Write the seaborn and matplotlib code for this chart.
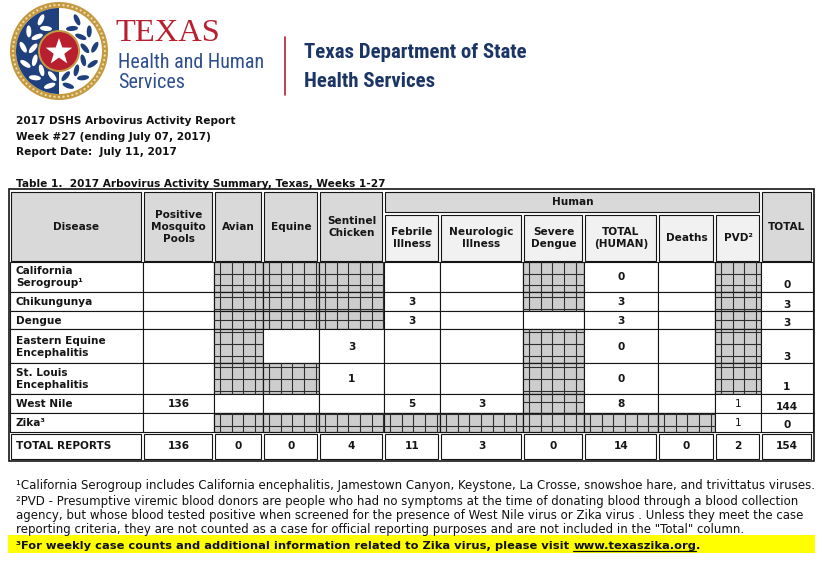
import numpy as np
import matplotlib
matplotlib.use("Agg")
import matplotlib.pyplot as plt
from matplotlib.patches import Rectangle, Circle, Wedge, Ellipse, Polygon
import seaborn as sns

# Data
diseases = ["California\nSerogroup¹", "Chikungunya", "Dengue",
            "Eastern Equine\nEncephalitis", "St. Louis\nEncephalitis",
            "West Nile", "Zika³"]
columns = ["Positive\nMosquito\nPools", "Avian", "Equine", "Sentinel\nChicken",
           "Febrile\nIllness", "Neurologic\nIllness", "Severe\nDengue",
           "TOTAL\n(HUMAN)", "Deaths", "PVD²", "TOTAL"]
human_cols = ["Febrile\nIllness", "Neurologic\nIllness", "Severe\nDengue",
              "TOTAL\n(HUMAN)", "Deaths", "PVD²"]
values = [
    [None, None, None, None, None, None, None, 0, None, None, 0],
    [None, None, None, None, 3, None, None, 3, None, None, 3],
    [None, None, None, None, 3, None, None, 3, None, None, 3],
    [None, None, None, 3, None, None, None, 0, None, None, 3],
    [None, None, None, 1, None, None, None, 0, None, None, 1],
    [136, None, None, None, 5, 3, None, 8, None, 1, 144],
    [None, None, None, None, None, None, None, None, None, 1, 0],
]
not_applicable = [
    [0, 1, 1, 1, 0, 0, 1, 0, 0, 1, 0],
    [0, 1, 1, 1, 0, 0, 1, 0, 0, 1, 0],
    [0, 1, 1, 1, 0, 0, 0, 0, 0, 1, 0],
    [0, 1, 0, 0, 0, 0, 1, 0, 0, 1, 0],
    [0, 1, 1, 0, 0, 0, 1, 0, 0, 1, 0],
    [0, 0, 0, 0, 0, 0, 1, 0, 0, 0, 0],
    [0, 1, 1, 1, 1, 1, 1, 1, 1, 0, 0],
]
totals = [136, 0, 0, 4, 11, 3, 0, 14, 0, 2, 154]
report_lines = ["2017 DSHS Arbovirus Activity Report",
                "Week #27 (ending July 07, 2017)",
                "Report Date:  July 11, 2017"]
table_title = "Table 1.  2017 Arbovirus Activity Summary, Texas, Weeks 1-27"
footnotes = [
    "¹California Serogroup includes California encephalitis, Jamestown Canyon, Keystone, La Crosse, snowshoe hare, and trivittatus viruses.",
    "²PVD - Presumptive viremic blood donors are people who had no symptoms at the time of donating blood through a blood collection",
    "agency, but whose blood tested positive when screened for the presence of West Nile virus or Zika virus . Unless they meet the case",
    "reporting criteria, they are not counted as a case for official reporting purposes and are not included in the \"Total\" column.",
]
zika_note = "³For weekly case counts and additional information related to Zika virus, please visit "
zika_url = "www.texaszika.org"

# Layout (pixels)
col_edges = [10, 143, 214, 263, 319, 384, 440, 523, 584, 658, 715, 761, 813]
row_edges = [262, 292, 311, 329, 363, 394, 413, 432, 460]
head_top, human_bottom = 190, 213

sns.set_theme(style="white")
plt.rcParams["font.family"] = ["DejaVu Sans"]
narrow = ["Roboto Condensed", "Open Sans Condensed", "Liberation Sans Narrow",
          "Roboto", "DejaVu Sans"]

fig = plt.figure(figsize=(8.24, 5.71), dpi=100)
ax = fig.add_axes([0, 0, 1, 1])
ax.set_xlim(0, 824)
ax.set_ylim(571, 0)
ax.axis("off")
renderer = fig.canvas.get_renderer()

def fit_text(x, y, s, width, size=10, **kw):
    t = ax.text(x, y, s, fontsize=size, **kw)
    w = t.get_window_extent(renderer).width
    t.set_fontsize(size * width / w)
    return t

# ---- logo ----
cx, cy = 59, 51
gold, navy, red = "#c39a42", "#1f3f7d", "#b8202f"
ax.add_patch(Circle((cx, cy), 49, fc=gold, ec="none"))
for a in np.linspace(0, 2 * np.pi, 64, endpoint=False):
    ax.add_patch(Circle((cx + 46 * np.cos(a), cy + 46 * np.sin(a)), 1.1,
                        fc="#f1dfa8", ec="none"))
ax.add_patch(Circle((cx, cy), 43, fc="white", ec="none"))
ax.add_patch(Wedge((cx, cy), 43, 90, 270, fc=navy, ec="none"))
for side, col in [(-1, "white"), (1, navy)]:
    for ang in np.linspace(30, 165, 6):
        r = np.deg2rad(ang)
        tx, ty = side * np.cos(r), np.sin(r)
        tang = np.degrees(np.arctan2(ty, tx))
        for off, tilt in [(36, 35), (26, -35)]:
            px, py = cx + side * off * np.sin(r), cy - off * np.cos(r)
            ax.add_patch(Ellipse((px, py), 12, 5, angle=tang + side * tilt,
                                 fc=col, ec="none"))
ax.add_patch(Circle((cx, cy), 21, fc=gold, ec="none"))
ax.add_patch(Circle((cx, cy), 19, fc=red, ec="none"))
pts = []
for k in range(10):
    rr = 14 if k % 2 == 0 else 5.6
    a = np.deg2rad(36 * k)
    pts.append((cx + rr * np.sin(a), cy - rr * np.cos(a) + 1))
ax.add_patch(Polygon(pts, closed=True, fc="white", ec="none"))

fit_text(115, 41, "TEXAS", 105, 25, family="Liberation Serif", color=red, va="baseline")
th = fit_text(118, 68, "Health and Human", 147, 16, family=narrow, color="#2d4f8f",
              va="baseline")
ax.text(118, 88, "Services", fontsize=th.get_fontsize(), family=narrow, color="#2d4f8f",
        va="baseline")
ax.plot([285, 285], [37, 95], color=red, lw=1.2)
td = fit_text(304, 58, "Texas Department of State", 223, 16, family=narrow, weight="bold",
              color="#1b3566", va="baseline")
ax.text(304, 87, "Health Services", fontsize=td.get_fontsize(), family=narrow,
        weight="bold", color="#1b3566", va="baseline")

# ---- report heading ----
for i, line in enumerate(report_lines):
    ax.text(16, 124 + i * 15.5, line, fontsize=7.6, weight="bold", color="#111",
            va="baseline")
ax.text(16, 187, table_title, fontsize=7.6, weight="bold", color="#111", va="baseline")

# ---- table ----
head_gray, sub_gray, na_gray = "#d9d9d9", "#f1f1f1", "#cdcdcd"
ink = "#151515"
tfont = dict(fontsize=7.6, weight="bold", color=ink)

def cell(x0, y0, x1, y1, fc, inset=0.0, lw=0.8):
    ax.add_patch(Rectangle((x0 + inset, y0 + inset), x1 - x0 - 2 * inset,
                           y1 - y0 - 2 * inset, fc=fc, ec=ink, lw=lw))

# header
cell(col_edges[0], head_top, col_edges[1], row_edges[0], head_gray, 1.5)
ax.text((col_edges[0] + col_edges[1]) / 2, 227, "Disease", ha="center", va="center", **tfont)
for j, name in enumerate(columns):
    x0, x1 = col_edges[j + 1], col_edges[j + 2]
    xc = (x0 + x1) / 2
    if name in human_cols:
        cell(x0, human_bottom, x1, row_edges[0], sub_gray, 1.5)
        ax.text(xc, 238, name, ha="center", va="center", multialignment="center",
                linespacing=1.3, **tfont)
    else:
        cell(x0, head_top, x1, row_edges[0], head_gray, 1.5)
        ax.text(xc, 227, name, ha="center", va="center", multialignment="center",
                linespacing=1.3, **tfont)
hx0, hx1 = col_edges[5], col_edges[11]
cell(hx0, head_top, hx1, human_bottom, head_gray, 1.5)
ax.text((hx0 + hx1) / 2, 202, "Human", ha="center", va="center", **tfont)

# body
spacing = 11.7
for i, name in enumerate(diseases):
    y0, y1 = row_edges[i], row_edges[i + 1]
    yc = (y0 + y1) / 2
    cell(col_edges[0], y0, col_edges[1], y1, "white")
    ax.text(16, yc + 0.5, name, ha="left", va="center", linespacing=1.25, **tfont)
    for j in range(len(columns)):
        x0, x1 = col_edges[j + 1], col_edges[j + 2]
        if not_applicable[i][j]:
            cell(x0, y0, x1, y1, na_gray)
            for gx in np.arange(x0 + spacing / 2, x1, spacing):
                ax.plot([gx, gx], [y0, y1], color="#2e2e2e", lw=0.8)
            for gy in np.arange(262 + spacing, y1, spacing):
                if gy > y0:
                    ax.plot([x0, x1], [gy, gy], color="#2e2e2e", lw=0.8)
            ax.add_patch(Rectangle((x0, y0), x1 - x0, y1 - y0, fc="none", ec=ink, lw=0.8))
        else:
            cell(x0, y0, x1, y1, "white")
        v = values[i][j]
        if v is not None:
            bold = "normal" if columns[j] == "PVD²" else "bold"
            if columns[j] == "TOTAL":
                ax.text((x0 + x1) / 2, y1 - 1.5, str(v), ha="center", va="bottom",
                        fontsize=7.6, weight=bold, color=ink)
            else:
                ax.text((x0 + x1) / 2, yc + 0.5, str(v), ha="center", va="center",
                        fontsize=7.6, weight=bold, color=ink)

# total row
y0, y1 = row_edges[-2], row_edges[-1]
yc = (y0 + y1) / 2
cell(col_edges[0], y0, col_edges[1], y1, "white", 1.5)
ax.text(16, yc, "TOTAL REPORTS", ha="left", va="center", **tfont)
for j, v in enumerate(totals):
    x0, x1 = col_edges[j + 1], col_edges[j + 2]
    cell(x0, y0, x1, y1, "white", 1.5)
    ax.text((x0 + x1) / 2, yc, str(v), ha="center", va="center", **tfont)

# outer border
ax.add_patch(Rectangle((col_edges[0] - 1, head_top - 1), col_edges[-1] - col_edges[0] + 2,
                       row_edges[-1] - head_top + 2, fc="none", ec=ink, lw=1.2))

# ---- footnotes ----
t = fit_text(16, 489, footnotes[0], 794, 7.2, color="#111", va="baseline")
fs = t.get_fontsize()
for k, line in enumerate(footnotes[1:]):
    ax.text(16, 505 + k * 14, line, fontsize=fs, color="#111", va="baseline")

ax.add_patch(Rectangle((8, 535), 807, 18, fc="#ffff00", ec="none"))
# size the bold line so that note + url + "." ends near x=696
probe = ax.text(0, 0, zika_note + zika_url + ".", fontsize=8, weight="bold")
zfs = 8 * 680 / probe.get_window_extent(renderer).width
probe.remove()
tz = ax.text(16, 549, zika_note, fontsize=zfs, weight="bold", color="#111", va="baseline")
bb = tz.get_window_extent(renderer)
tu = ax.text(bb.x1, 549, zika_url, fontsize=zfs, weight="bold", color="#111",
             va="baseline")
ub = tu.get_window_extent(renderer)
ax.plot([ub.x0, ub.x1], [551, 551], color="#111", lw=0.9)
ax.text(ub.x1, 549, ".", fontsize=zfs, weight="bold", color="#111", va="baseline")

fig.savefig("out.png", dpi=100)
